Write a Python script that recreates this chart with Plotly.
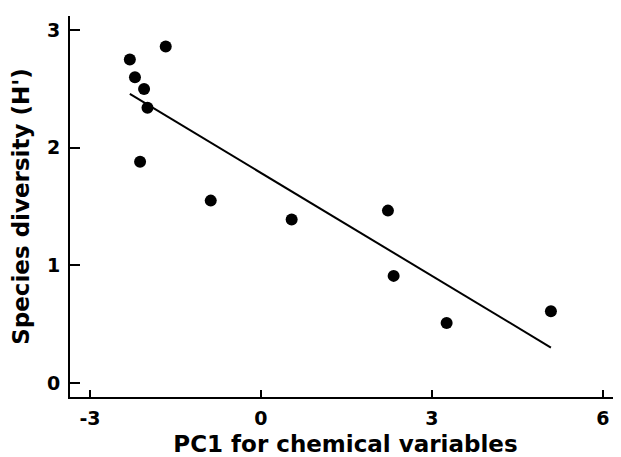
import numpy as np
import plotly.graph_objects as go

# PC1 score and Shannon diversity per site
pc1 = [-2.30, -1.67, -2.21, -2.05, -1.99, -2.12, -0.88, 0.54, 2.23, 2.33, 3.26, 5.09]
diversity = [2.75, 2.86, 2.60, 2.50, 2.34, 1.88, 1.55, 1.39, 1.465, 0.91, 0.51, 0.61]

x_ticks = [-3, 0, 3, 6]
x_labels = ['-3', '0', '3', '6']
y_ticks = [0, 1, 2, 3]

FONT = 'DejaVu Sans, Verdana, sans-serif'


def fit_line(x, y):
    """least squares line over the range of x"""
    slope, icept = np.polyfit(x, y, 1)
    xs = np.array([min(x), max(x)])
    return xs, slope * xs + icept


fig = go.Figure()
fx, fy = fit_line(pc1, diversity)
fig.add_trace(go.Scatter(x=fx, y=fy, mode='lines', line=dict(color='black', width=2), showlegend=False))
fig.add_trace(go.Scatter(x=pc1, y=diversity, mode='markers', marker=dict(color='black', size=12),
                         showlegend=False))

axis = dict(showline=True, linecolor='black', linewidth=2, showgrid=False, zeroline=False,
            ticks='inside', tickcolor='black', tickwidth=2, automargin=False,
            tickfont=dict(family=FONT, size=19, color='black', weight='bold'))
title_font = dict(family=FONT, size=23, color='black', weight='bold')

fig.update_xaxes(range=[-3.35, 6.32], tickvals=x_ticks, ticktext=x_labels, ticklen=7, ticklabelstandoff=3,
                 title=dict(text='PC1 for chemical variables', standoff=9, font=title_font),
                 **axis)
fig.update_yaxes(range=[-0.12, 3.12], tickvals=y_ticks, ticklen=10, ticklabelstandoff=4,
                 title=dict(text="Species diversity (H')", standoff=12, font=title_font),
                 **axis)

# page body adds an 8px offset, so the figure is a bit smaller than the window
fig.update_layout(width=613, height=449, margin=dict(l=62, r=0, t=8, b=60),
                  plot_bgcolor='white', paper_bgcolor='white')

fig.write_html("out.html")
